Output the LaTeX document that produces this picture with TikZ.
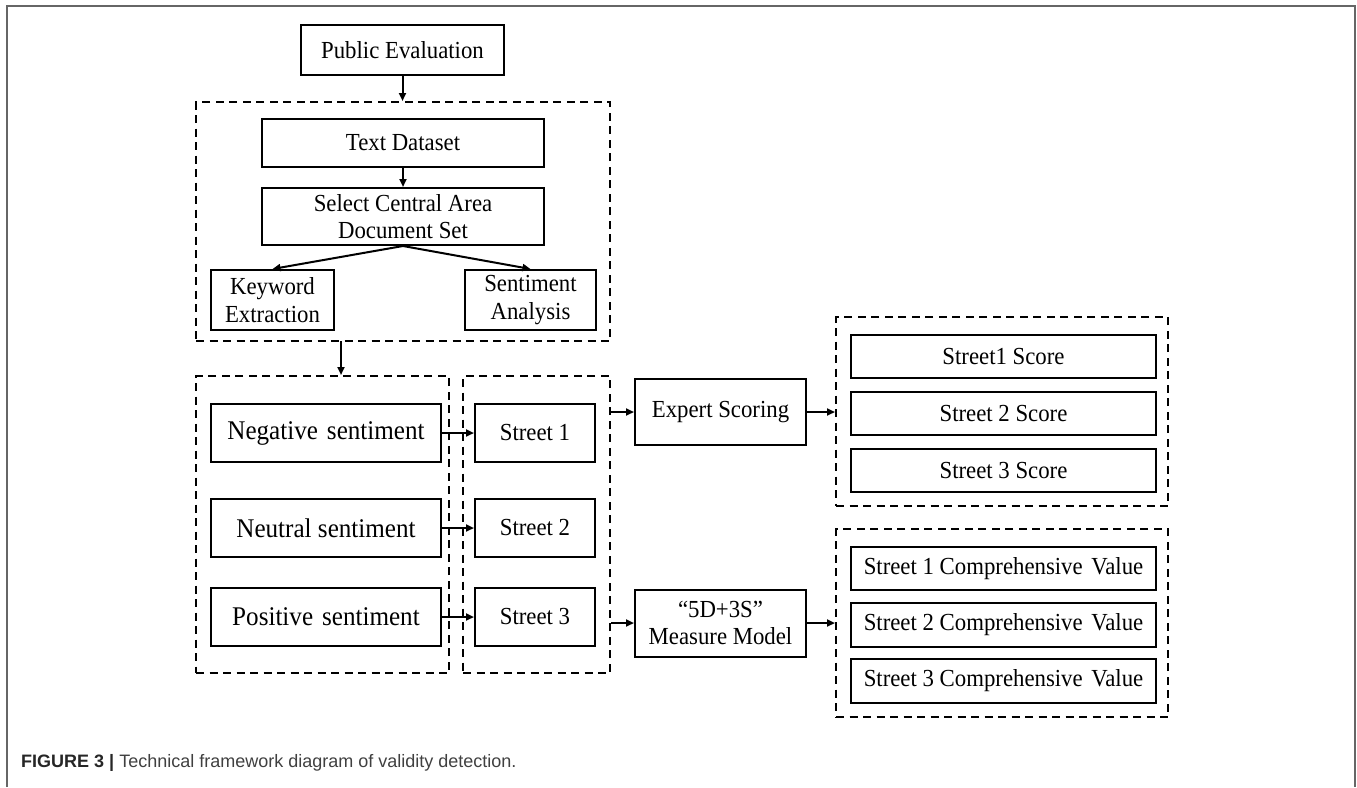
\documentclass[tikz,border=0pt]{standalone}
\usepackage{fontspec}
\setmainfont{Liberation Serif}[FakeStretch=0.93]
\setsansfont{Liberation Sans}
\usetikzlibrary{arrows.meta,calc}
\tikzset{
  box/.style={draw=black, line width=2pt, inner sep=0pt, align=center, font=\fontsize{24.5}{27.5}\selectfont},
  bigbox/.style={box, font=\fontsize{27}{30}\selectfont},
  group/.style={draw=black, line width=2pt, dash pattern=on 8pt off 5.5pt, inner sep=0pt},
  arr/.style={line width=2pt, -{Triangle[length=8pt,width=7pt]}},
  frame/.style={draw=black!60, line width=1.6pt}
}
\begin{document}
\begin{tikzpicture}[x=1pt,y=-1pt]
\useasboundingbox (0,0) rectangle (1357,787);
% outer frame
\draw[frame] (7,787) -- (7,6) -- (1355,6) -- (1355,787);
% dashed groups
\node[group, minimum width=414pt, minimum height=239pt] (d1) at (403,221.5) {};
\node[group, minimum width=253pt, minimum height=297pt] (d2) at (322.5,524.5) {};
\node[group, minimum width=147pt, minimum height=297pt] (d3) at (536.5,524.5) {};
\node[group, minimum width=332pt, minimum height=189pt] (d4) at (1002,411.5) {};
\node[group, minimum width=332pt, minimum height=188pt] (d5) at (1002,623) {};
% boxes
\node[box, minimum width=203pt, minimum height=50pt] (pub) at (402.5,50) {Public Evaluation};
\node[box, minimum width=282pt, minimum height=48pt] (txt) at (403,143) {Text Dataset};
\node[box, minimum width=282pt, minimum height=57pt] (sel) at (403,216.5) {Select Central Area\\Document Set};
\node[box, minimum width=123pt, minimum height=60pt] (kw) at (272.5,300) {Keyword\\Extraction};
\node[box, minimum width=131pt, minimum height=60pt] (sa) at (530.5,300) {Sentiment\\Analysis};
\node[bigbox, minimum width=230pt, minimum height=58pt] (neg) at (326,433) {Negative\hspace{0.1em} sentiment};
\node[bigbox, minimum width=230pt, minimum height=58pt] (neu) at (326,528) {Neutral sentiment};
\node[bigbox, minimum width=230pt, minimum height=58pt] (pos) at (326,617) {Positive\hspace{0.1em} sentiment};
\node[box, minimum width=120pt, minimum height=58pt] (s1) at (535,433) {Street 1};
\node[box, minimum width=120pt, minimum height=58pt] (s2) at (535,528) {Street 2};
\node[box, minimum width=120pt, minimum height=58pt] (s3) at (535,617) {Street 3};
\node[box, minimum width=171pt, minimum height=66pt] (exp) at (720.5,412) {Expert Scoring};
\node[box, minimum width=171pt, minimum height=67pt] (mm) at (720.5,623) {“5D+3S”\\Measure Model};
\node[box, minimum width=305pt, minimum height=43pt] (sc1) at (1003.5,356.5) {Street1 Score};
\node[box, minimum width=305pt, minimum height=43pt] (sc2) at (1003.5,413.5) {Street 2 Score};
\node[box, minimum width=305pt, minimum height=43pt] (sc3) at (1003.5,470.5) {Street 3 Score};
\node[box, minimum width=305pt, minimum height=43pt] (cv1) at (1003.5,568.5) {Street 1 Comprehensive\hspace{0.12em} Value};
\node[box, minimum width=305pt, minimum height=44pt] (cv2) at (1003.5,625) {Street 2 Comprehensive\hspace{0.12em} Value};
\node[box, minimum width=305pt, minimum height=44pt] (cv3) at (1003.5,681) {Street 3 Comprehensive\hspace{0.12em} Value};
% connectors
\draw[arr] (pub.south) -- (pub.south |- d1.north);
\draw[arr] (txt.south) -- (sel.north);
\draw[arr] (sel.south) -- (kw.north);
\draw[arr] (sel.south) -- (sa.north);
\coordinate (a1) at (341,341);
\draw[arr] (a1) -- (a1 |- d2.north);
\draw[arr] (neg.east) -- (s1.west);
\draw[arr] (neu.east) -- (s2.west);
\draw[arr] (pos.east) -- (s3.west);
\draw[arr] (exp.west -| d3.east) -- (exp.west);
\draw[arr] (mm.west -| d3.east) -- (mm.west);
\draw[arr] (exp.east) -- (exp.east -| d4.west);
\draw[arr] (mm.east) -- (mm.east -| d5.west);
% caption
\node[anchor=base west, inner sep=0pt, font=\sffamily\fontsize{18}{21}\selectfont, text=black!75] (cap) at (21,767) {\textcolor{black!85}{\textbf{FIGURE 3 |}} Technical framework diagram of validity detection.};
\end{tikzpicture}
\end{document}
